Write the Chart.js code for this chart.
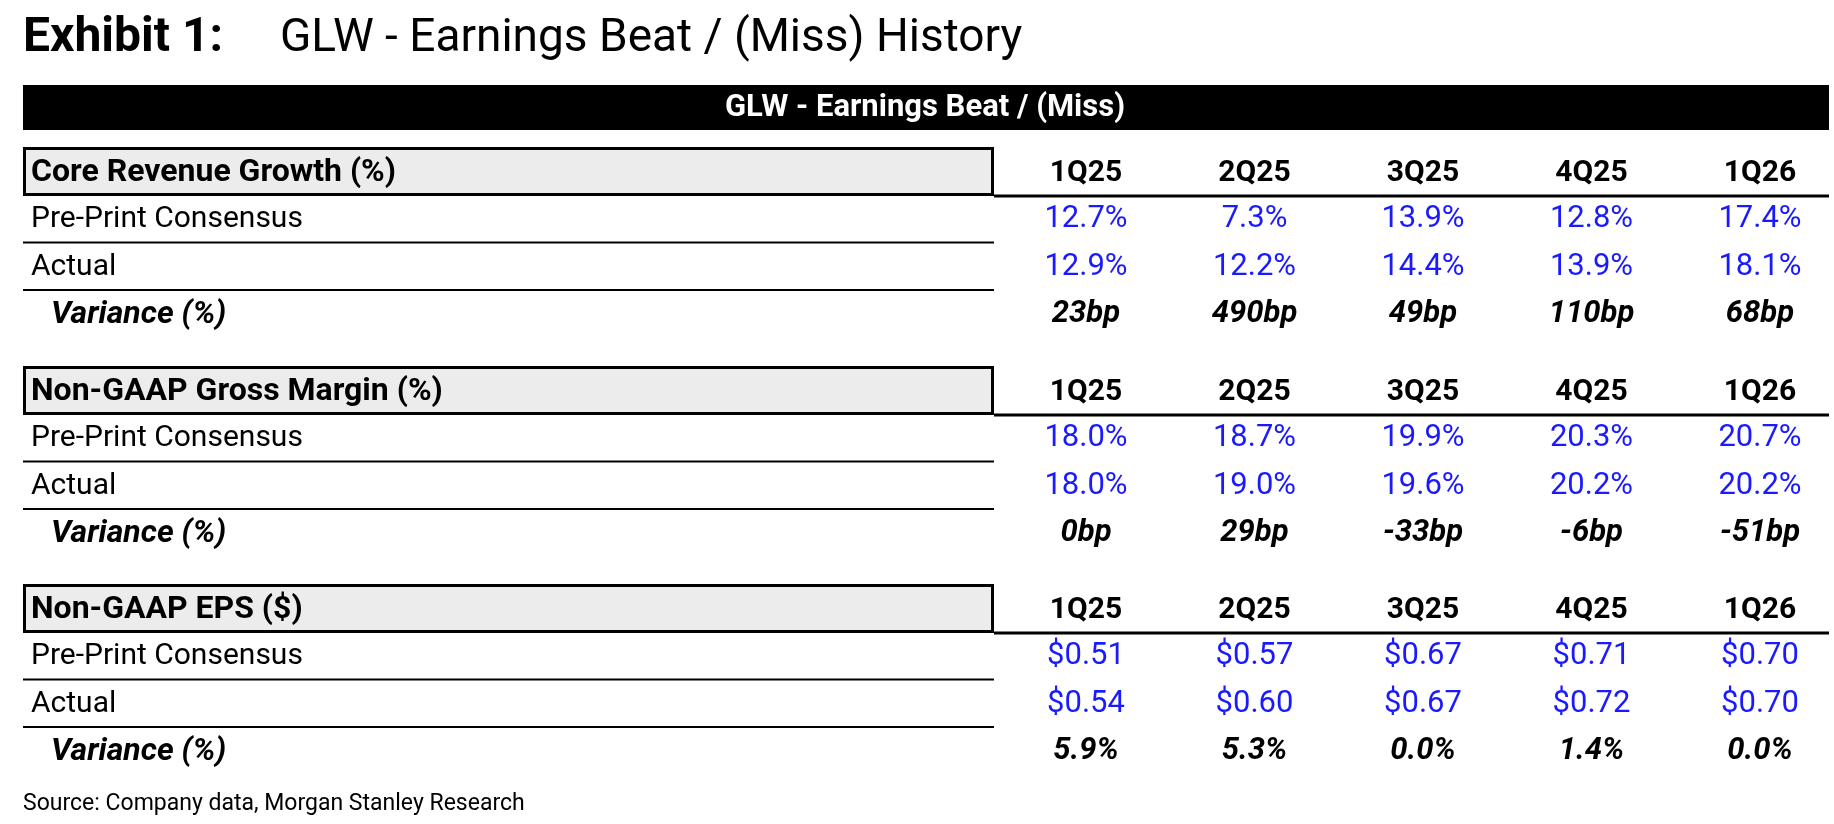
<!DOCTYPE html>
<html><head><meta charset="utf-8">
<script src="https://cdn.jsdelivr.net/npm/chart.js@4"></script>
<style>html,body{margin:0;padding:0;background:#fff}canvas{display:block}</style>
</head><body>
<canvas id="c" width="1834" height="824"></canvas>
<script>
const quarters = ['1Q25','2Q25','3Q25','4Q25','1Q26'];
const sections = ['Core Revenue Growth (%)','Non-GAAP Gross Margin (%)','Non-GAAP EPS ($)'];
const rowLabels = ['Pre-Print Consensus','Actual','Variance (%)'];
const revConsensus = ['12.7%','7.3%','13.9%','12.8%','17.4%'];
const revActual = ['12.9%','12.2%','14.4%','13.9%','18.1%'];
const revVariance = ['23bp','490bp','49bp','110bp','68bp'];
const gmConsensus = ['18.0%','18.7%','19.9%','20.3%','20.7%'];
const gmActual = ['18.0%','19.0%','19.6%','20.2%','20.2%'];
const gmVariance = ['0bp','29bp','-33bp','-6bp','-51bp'];
const epsConsensus = ['$0.51','$0.57','$0.67','$0.71','$0.70'];
const epsActual = ['$0.54','$0.60','$0.67','$0.72','$0.70'];
const epsVariance = ['5.9%','5.3%','0.0%','1.4%','0.0%'];
const tableRows = [
  [revConsensus, revActual, revVariance],
  [gmConsensus, gmActual, gmVariance],
  [epsConsensus, epsActual, epsVariance]
];

const F = 'Roboto, "Liberation Sans", sans-serif';
const tablePlugin = {
  id: 'table',
  afterDraw(chart) {
    const ctx = chart.ctx, xs = chart.scales.x;
    const L = 23, R = 1829, boxR = 994;
    ctx.save();
    ctx.textBaseline = 'middle';
    // title
    ctx.fillStyle = '#000';
    ctx.font = 'bold 48px ' + F;
    ctx.textAlign = 'left';
    ctx.fillText('Exhibit 1:', L, 39);
    ctx.font = '46px ' + F;
    ctx.fillText('GLW - Earnings Beat / (Miss) History', 280, 39);
    // black banner
    ctx.fillRect(L, 85, R - L, 45);
    ctx.fillStyle = '#fff';
    ctx.font = 'bold 31px ' + F;
    ctx.textAlign = 'center';
    ctx.fillText('GLW - Earnings Beat / (Miss)', 925, 108);

    const secTop = [147, 366, 584];
    sections.forEach((name, s) => {
      const top = secTop[s], hdrY = top + 25, bottom = top + 49;
      ctx.fillStyle = '#ececec';
      ctx.fillRect(L, top, boxR - L, 49);
      ctx.strokeStyle = '#000';
      ctx.lineWidth = 3;
      ctx.strokeRect(L + 1.5, top + 1.5, boxR - L - 3, 46);
      ctx.beginPath(); ctx.moveTo(boxR, bottom); ctx.lineTo(R, bottom); ctx.stroke();
      ctx.fillStyle = '#000';
      ctx.font = 'bold 32px ' + F;
      ctx.textAlign = 'left';
      ctx.fillText(name, 31, hdrY + 1);
      ctx.font = 'bold 30px ' + F;
      ctx.textAlign = 'center';
      quarters.forEach((q, i) => ctx.fillText(q, xs.getPixelForValue(i), hdrY + 1));
      rowLabels.forEach((lab, r) => {
        const y = hdrY + 47.5 * (r + 1);
        const isVar = r === 2;
        ctx.textAlign = 'left';
        ctx.fillStyle = '#000';
        ctx.font = (isVar ? 'italic bold 32px ' : '30px ') + F;
        ctx.fillText(lab, isVar ? 51 : 31, y);
        ctx.textAlign = 'center';
        ctx.fillStyle = isVar ? '#000' : '#1a1aff';
        ctx.font = (isVar ? 'italic bold 31px ' : '31px ') + F;
        tableRows[s][r].forEach((v, i) => ctx.fillText(v, xs.getPixelForValue(i), y));
        if (r < 2) {
          ctx.strokeStyle = '#000'; ctx.lineWidth = 2;
          ctx.beginPath(); ctx.moveTo(L, y + 23); ctx.lineTo(boxR, y + 23); ctx.stroke();
        }
      });
    });
    ctx.fillStyle = '#000';
    ctx.textAlign = 'left';
    ctx.font = '23px ' + F;
    ctx.fillText('Source: Company data, Morgan Stanley Research', L, 804);
    ctx.restore();
  }
};

new Chart(document.getElementById('c'), {
  type: 'scatter',
  data: { datasets: [{ data: [], pointRadius: 0 }] },
  options: {
    responsive: false,
    animation: false,
    layout: { padding: 0 },
    plugins: { legend: { display: false }, tooltip: { enabled: false } },
    scales: {
      x: { type: 'linear', display: false, min: -1086 / 168.5, max: (1834 - 1086) / 168.5 },
      y: { type: 'linear', display: false, min: 0, max: 1 }
    }
  },
  plugins: [tablePlugin]
});
</script>
</body></html>
